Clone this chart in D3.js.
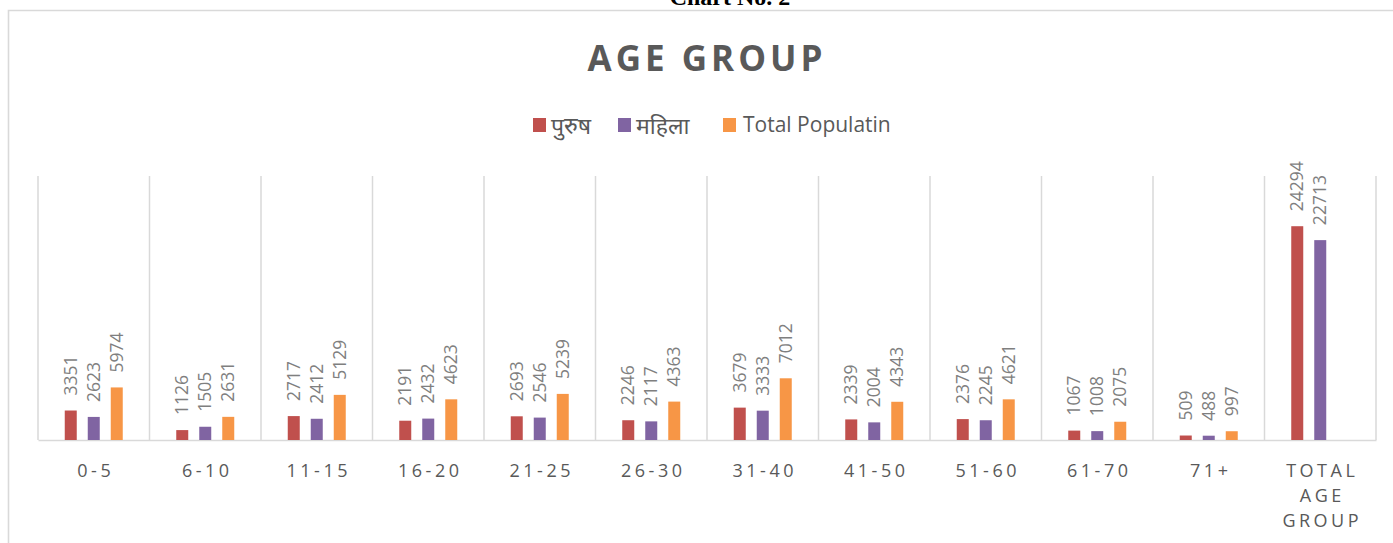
<!DOCTYPE html>
<html>
<head>
<meta charset="utf-8">
<script src="https://cdn.jsdelivr.net/npm/d3@7"></script>
<style>
  body { margin: 0; background: #fff; }
  svg { display: block; }
</style>
</head>
<body>
<script>
// data
var categories = ["0-5", "6-10", "11-15", "16-20", "21-25", "26-30", "31-40", "41-50", "51-60", "61-70", "71+", "TOTAL AGE GROUP"];
var male   = [3351, 1126, 2717, 2191, 2693, 2246, 3679, 2339, 2376, 1067, 509, 24294];
var female = [2623, 1505, 2412, 2432, 2546, 2117, 3333, 2004, 2245, 1008, 488, 22713];
var total  = [5974, 2631, 5129, 4623, 5239, 4363, 7012, 4343, 4621, 2075, 997, null];
var seriesNames = ["पुरुष", "महिला", "Total Populatin"];
var colors = ["#c0504d", "#8064a2", "#f79646"];

var w = 1393, h = 543;
var font = "'Open Sans', 'Noto Sans', 'Noto Sans Devanagari', sans-serif";

var svg = d3.select("body").append("svg")
    .attr("width", w)
    .attr("height", h);

// outer frame of the chart area
svg.append("path")
    .attr("d", "M8.5," + h + " V10.5 H" + w)
    .attr("fill", "none")
    .attr("stroke", "#d9d9d9")
    .attr("stroke-width", 1.6);

// caption from the page above, cut by the top edge as in the source
svg.append("text")
    .attr("x", 730).attr("y", 5)
    .attr("text-anchor", "middle")
    .style("font-family", "'Liberation Serif', serif")
    .style("font-weight", "bold")
    .style("font-size", "24px")
    .text("Chart No. 2");

svg.append("text")
    .attr("x", 707).attr("y", 71)
    .attr("text-anchor", "middle")
    .style("font-family", font)
    .style("font-weight", "bold")
    .style("font-size", "35px")
    .style("letter-spacing", "4px")
    .attr("fill", "#595959")
    .text("AGE GROUP");

// legend
var legendX = [533, 618, 723];
var legend = svg.selectAll(".legend").data(seriesNames).enter().append("g")
    .attr("transform", function(d, i) { return "translate(" + legendX[i] + ",118)"; });
legend.append("rect")
    .attr("width", 13).attr("height", 14)
    .attr("fill", function(d, i) { return colors[i]; });
legend.append("text")
    .attr("x", function(d, i) { return i < 2 ? 18 : 20; })
    .attr("y", function(d, i) { return i < 2 ? 16 : 14; })
    .style("font-family", font)
    .style("font-size", function(d, i) { return i < 2 ? "23px" : "21px"; })
    .attr("fill", "#595959")
    .text(function(d) { return d; });

var x = d3.scaleBand().domain(categories).range([38, 1376]);
var xSub = d3.scaleBand().domain([0, 1, 2]).range([-34.5, 34.5])
    .paddingInner(11 / 23).paddingOuter(11 / 46);
var y = d3.scaleLinear().domain([0, 30000]).range([440, 176]);

// vertical separators between categories
var edges = categories.map(function(c) { return x(c); }).concat([x.range()[1]]);
svg.selectAll(".sep").data(edges).enter().append("line")
    .attr("x1", function(d) { return d; }).attr("x2", function(d) { return d; })
    .attr("y1", y(30000)).attr("y2", y(0))
    .attr("stroke", "#d9d9d9").attr("stroke-width", 1.5);

var xAxis = svg.append("g")
    .attr("transform", "translate(0," + y(0) + ")")
    .call(d3.axisBottom(x).tickSize(0).tickPadding(0));
xAxis.select(".domain").attr("stroke", "#d9d9d9").attr("stroke-width", 1.5);
xAxis.selectAll(".tick text").remove();
xAxis.selectAll(".tick").each(function(d) {
    var words = d.indexOf(" ") > 0 ? d.split(" ") : [d];
    var t = d3.select(this).append("text")
        .attr("fill", "#595959")
        .attr("text-anchor", "middle")
        .style("font-family", font)
        .style("font-size", "18px")
        .style("letter-spacing", "3.5px");
    words.forEach(function(wd, i) {
        t.append("tspan").attr("x", 2).attr("y", 37 + i * 25).text(wd);
    });
});

var seriesData = [male, female, total];
seriesData.forEach(function(vals, s) {
    var g = svg.append("g");
    var pts = vals.map(function(v, i) { return { c: categories[i], v: v }; })
        .filter(function(d) { return d.v != null; });
    g.selectAll("rect").data(pts).enter().append("rect")
        .attr("x", function(d) { return x(d.c) + x.bandwidth() / 2 + xSub(s); })
        .attr("width", xSub.bandwidth())
        .attr("y", function(d) { return y(d.v); })
        .attr("height", function(d) { return y(0) - y(d.v); })
        .attr("fill", colors[s]);
    g.selectAll("text").data(pts).enter().append("text")
        .attr("transform", function(d) {
            var cx = x(d.c) + x.bandwidth() / 2 + xSub(s) + xSub.bandwidth() / 2;
            return "translate(" + cx + "," + (y(d.v) - 15) + ") rotate(-90)";
        })
        .attr("dy", "0.35em")
        .style("font-family", font)
        .style("font-size", "17.5px")
        .attr("fill", "#7f7f7f")
        .text(function(d) { return d.v; });
});
</script>
</body>
</html>
